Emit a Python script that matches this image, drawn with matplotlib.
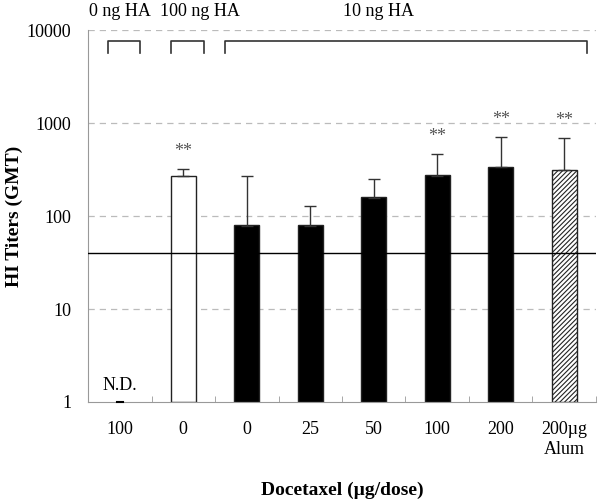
import numpy as np
import matplotlib.pyplot as plt
from matplotlib.ticker import FixedLocator, NullFormatter

plt.rcParams['font.family'] = ['Liberation Serif', 'DejaVu Serif']
plt.rcParams['hatch.color'] = '#555555'
plt.rcParams['hatch.linewidth'] = 0.8

# data
labels = ["100", "0", "0", "25", "50", "100", "200", "200\u00b5g\nAlum"]
gmt = [0, 270, 79, 79, 158, 273, 337, 312]
err_top = [0, 322, 271, 127, 248, 464, 713, 695]
stars = [False, True, False, False, False, True, True, True]
kind = ["none", "white", "black", "black", "black", "black", "black", "hatch"]
cutoff = 40
groups = ["0 ng HA", "100 ng HA", "10 ng HA"]
group_span = [(-0.19, 0.32), (0.81, 1.33), (1.66, 7.36)]
group_label_x = [0.0, 1.27, 4.08]

x = np.arange(len(labels))
upper = [e - v for e, v in zip(err_top, gmt)]

fig = plt.figure(figsize=(6, 5.04), dpi=100)
ax = fig.add_axes([0.1467, 0.2024, 0.8466, 0.7375])
ax.set_yscale('log')
ax.set_ylim(1, 10000)
ax.set_xlim(-0.5, 7.5)

for yv in [10, 100, 1000, 10000]:
    ax.axhline(yv, color='#bbbbbb', lw=0.9, ls=(0, (5, 4)), zorder=0)

for i in range(len(labels)):
    if kind[i] == "none":
        ax.plot([i - 0.05, i + 0.05], [1, 1], color='black', lw=1.5, zorder=3, clip_on=False)
        ax.text(i, 1.22, "N.D.", ha='center', va='bottom', fontsize=13)
        continue
    if kind[i] == "white":
        fc, hatch = 'white', None
    elif kind[i] == "black":
        fc, hatch = 'black', None
    else:
        fc, hatch = 'white', '///////'
    ax.bar(x[i], gmt[i], width=0.4, bottom=1, color=fc, edgecolor='#222222',
           lw=1.0, hatch=hatch, zorder=2)
    ax.errorbar(x[i], gmt[i], yerr=[[0], [upper[i]]], fmt='none', ecolor='#333333',
                elinewidth=1.0, capsize=4, capthick=1.0, zorder=3)
    if stars[i]:
        ax.text(x[i], err_top[i] * 1.25, "**", ha='center', va='bottom',
                fontsize=13, color='#555555')

ax.axhline(cutoff, color='black', lw=1.0, zorder=4)

# group brackets
for (a, b), name, lx in zip(group_span, groups, group_label_x):
    ax.plot([a, a, b, b], [5700, 7700, 7700, 5700], color='#333333', lw=1.2, clip_on=False)
    ax.text(lx, 16000, name, ha='center', va='center', fontsize=13, clip_on=False)

for s in ['top', 'right']:
    ax.spines[s].set_visible(False)
ax.spines['left'].set_color('#999999')
ax.spines['bottom'].set_color('#999999')

ax.set_yticks([1, 10, 100, 1000, 10000])
ax.set_yticklabels(["1", "10", "100", "1000", "10000"])
ax.yaxis.set_minor_locator(FixedLocator([]))
ax.tick_params(axis='y', length=0, pad=12, labelsize=13)

ax.set_xticks(x)
ax.set_xticklabels(labels)
ax.xaxis.set_minor_locator(FixedLocator(np.arange(-0.5, 8, 1)))
ax.xaxis.set_minor_formatter(NullFormatter())
ax.tick_params(axis='x', which='major', length=0, pad=14, labelsize=13)
ax.tick_params(axis='x', which='minor', direction='in', length=4, color='#999999')

ax.set_ylabel("HI Titers (GMT)", fontsize=14, fontweight='bold')
ax.yaxis.set_label_coords(-0.128, 0.5)
fig.text(0.57, 0.028, "Docetaxel (\u00b5g/dose)", ha='center', va='center',
         fontsize=14, fontweight='bold')

fig.savefig("out.png", dpi=100)
